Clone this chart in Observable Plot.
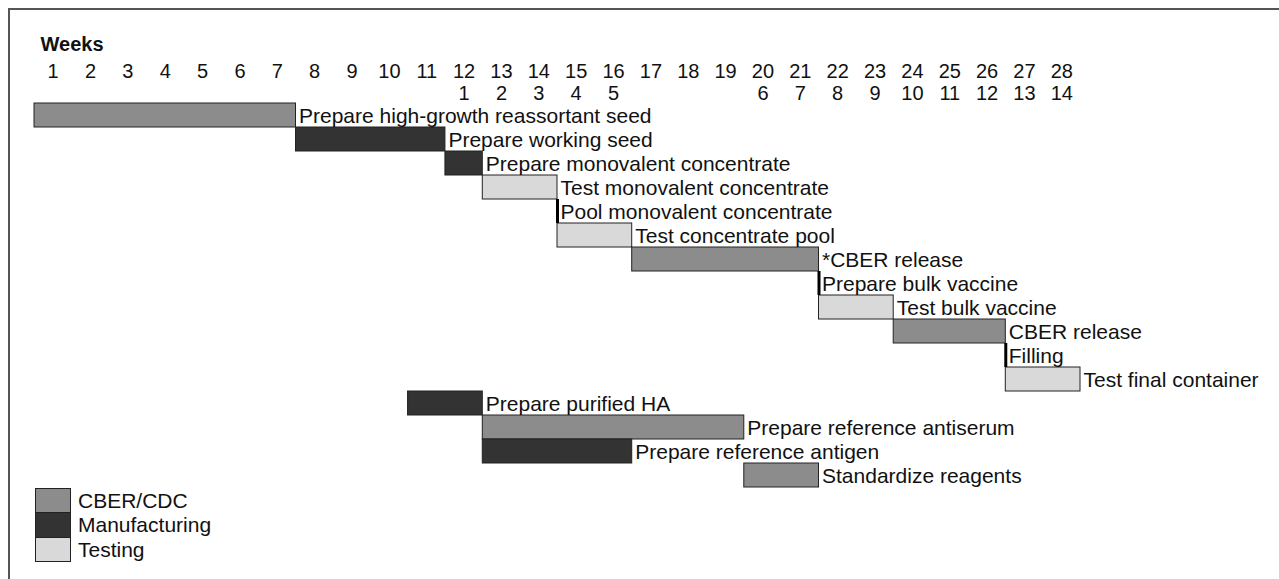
<!DOCTYPE html>
<html>
<head>
<meta charset="utf-8">
<script src="https://cdn.jsdelivr.net/npm/d3@7"></script>
<script src="https://cdn.jsdelivr.net/npm/@observablehq/plot@0.6"></script>
<style>
  html, body { margin: 0; padding: 0; background: #fff; }
  #wrap { position: relative; width: 1279px; height: 579px; overflow: hidden; font-family: "Liberation Sans", Arial, sans-serif; }
  #frame { position: absolute; left: 8px; top: 8px; right: -2px; bottom: -2px; border-left: 2px solid #555; border-top: 2px solid #555; pointer-events: none; }
  #chart { position: absolute; left: 0; top: 0; }
  #legend { position: absolute; left: 35px; top: 489px; }
  .lg-row { display: flex; align-items: center; height: 24.3px; }
  .lg-sw { width: 34px; height: 23.3px; border: 1px solid #222; box-sizing: content-box; margin-top: -1px; }
  .lg-tx { margin-left: 7px; font-size: 21px; color: #111; }
</style>
</head>
<body>
<div id="wrap">
  <div id="chart"></div>
  <div id="legend"></div>
  <div id="frame"></div>
</div>
<script>
// ---- data ----
const tasks = [
  "Prepare high-growth reassortant seed",
  "Prepare working seed",
  "Prepare monovalent concentrate",
  "Test monovalent concentrate",
  "Pool monovalent concentrate",
  "Test concentrate pool",
  "*CBER release",
  "Prepare bulk vaccine",
  "Test bulk vaccine",
  "CBER release",
  "Filling",
  "Test final container",
  "Prepare purified HA",
  "Prepare reference antiserum",
  "Prepare reference antigen",
  "Standardize reagents"
];
const startWeek = [0, 7, 11, 12, 14, 14, 16, 21, 21, 23, 26, 26, 10, 12, 12, 19];
const endWeek   = [7, 11, 12, 14, 14, 16, 21, 21, 23, 26, 26, 28, 12, 19, 16, 21];
const taskGroup = [
  "CBER/CDC", "Manufacturing", "Manufacturing", "Testing", "Manufacturing", "Testing",
  "CBER/CDC", "Manufacturing", "Testing", "CBER/CDC", "Manufacturing", "Testing",
  "Manufacturing", "CBER/CDC", "Manufacturing", "CBER/CDC"
];
const groups = ["CBER/CDC", "Manufacturing", "Testing"];
const groupColors = ["#8c8c8c", "#333333", "#d9d9d9"];
const weekNumbers = d3.range(1, 29);
const secondaryWeeks = [12, 13, 14, 15, 16, 20, 21, 22, 23, 24, 25, 26, 27, 28];
const secondaryLabels = [1, 2, 3, 4, 5, 6, 7, 8, 9, 10, 11, 12, 13, 14];

// ---- build table ----
const rows = tasks.map((t, i) => ({task: t, start: startWeek[i], end: endWeek[i], group: taskGroup[i]}));
const spans = rows.filter(d => d.end > d.start);
const points = rows.filter(d => d.end === d.start);
const secondary = secondaryWeeks.map((w, i) => ({week: w, label: secondaryLabels[i]}));

const FS = 20;
const LFS = 21;
const chart = Plot.plot({
  width: 1279,
  height: 489,
  marginTop: 101,
  marginBottom: 0,
  marginLeft: 34,
  marginRight: 199,
  style: {fontFamily: '"Liberation Sans", Arial, sans-serif', background: "transparent", overflow: "visible"},
  x: {domain: [0, 28], axis: null},
  y: {domain: tasks, axis: null, padding: 0},
  color: {domain: groups, range: groupColors},
  marks: [
    Plot.text(["Weeks"], {frameAnchor: "top-left", text: d => d, dx: 6, dy: -65, textAnchor: "start", fontWeight: "bold", fontSize: 20, fill: "#111"}),
    Plot.text(weekNumbers, {x: d => d - 0.5, text: d => String(d), frameAnchor: "top", dy: -38, fontSize: FS, fill: "#111"}),
    Plot.text(secondary, {x: d => d.week - 0.5, text: d => String(d.label), frameAnchor: "top", dy: -16, fontSize: FS, fill: "#111"}),
    Plot.barX(spans, {x1: "start", x2: "end", y: "task", fill: "group", stroke: "#222", strokeWidth: 1}),
    Plot.tickX(points, {x: "start", y: "task", stroke: "#000", strokeWidth: 3}),
    Plot.text(rows, {x: "end", y: "task", text: "task", textAnchor: "start", dx: 3, dy: 1, fontSize: LFS, fill: "#111"})
  ]
});
document.getElementById("chart").appendChild(chart);

// ---- legend ----
const legend = document.getElementById("legend");
groups.forEach((g, i) => {
  const row = document.createElement("div");
  row.className = "lg-row";
  const sw = document.createElement("div");
  sw.className = "lg-sw";
  sw.style.background = groupColors[i];
  const tx = document.createElement("div");
  tx.className = "lg-tx";
  tx.textContent = g;
  row.appendChild(sw);
  row.appendChild(tx);
  legend.appendChild(row);
});
</script>
</body>
</html>
